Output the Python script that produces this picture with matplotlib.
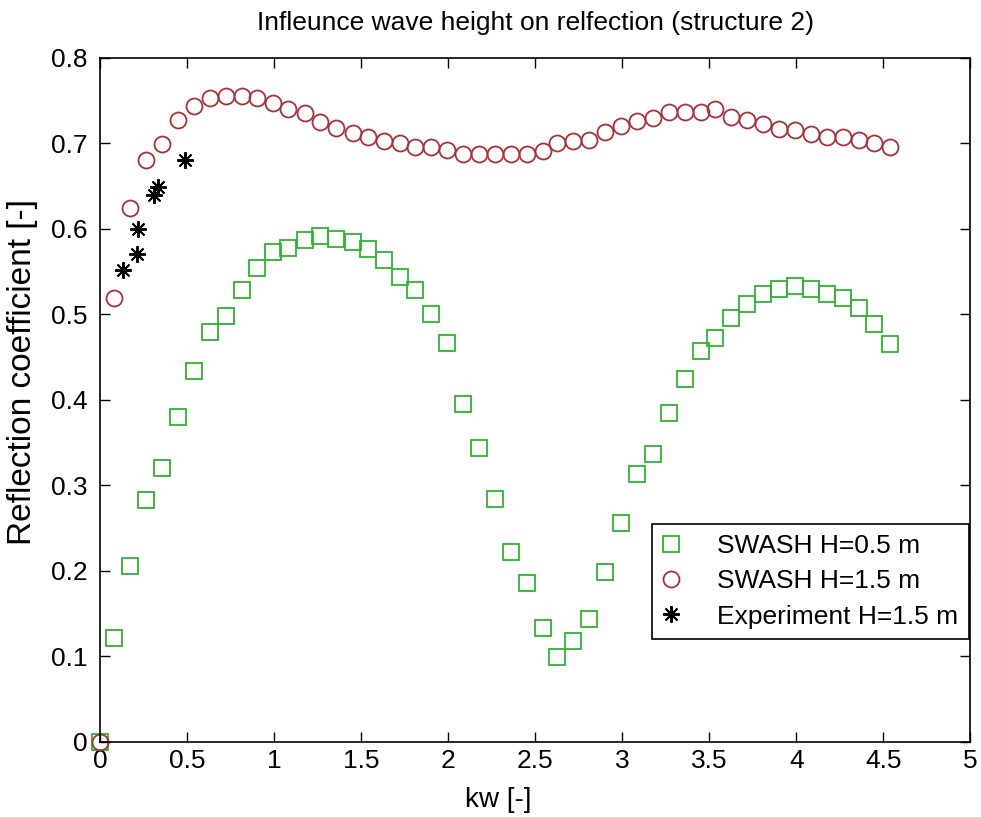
import matplotlib
matplotlib.use("Agg")
import matplotlib.pyplot as plt

# kw values (shared by both SWASH runs)
kw = [0, 0.080, 0.171, 0.263, 0.354, 0.448, 0.538, 0.630, 0.722, 0.815, 0.899,
      0.990, 1.080, 1.176, 1.265, 1.357, 1.450, 1.540, 1.630, 1.724, 1.809,
      1.899, 1.991, 2.083, 2.176, 2.268, 2.360, 2.451, 2.545, 2.623, 2.717,
      2.807, 2.898, 2.990, 3.085, 3.177, 3.267, 3.360, 3.452, 3.533, 3.622,
      3.715, 3.810, 3.900, 3.995, 4.085, 4.177, 4.269, 4.361, 4.446, 4.537]

refl_h05 = [0, 0.121, 0.205, 0.283, 0.320, 0.380, 0.434, 0.479, 0.498, 0.528, 0.554,
            0.573, 0.577, 0.587, 0.591, 0.588, 0.584, 0.576, 0.563, 0.543, 0.528,
            0.500, 0.466, 0.395, 0.343, 0.284, 0.222, 0.186, 0.133, 0.099, 0.118,
            0.144, 0.198, 0.256, 0.313, 0.337, 0.385, 0.424, 0.457, 0.472, 0.495,
            0.512, 0.524, 0.529, 0.533, 0.530, 0.524, 0.519, 0.507, 0.489, 0.465]

refl_h15 = [0, 0.519, 0.624, 0.680, 0.699, 0.727, 0.744, 0.753, 0.755, 0.755, 0.753,
            0.747, 0.740, 0.735, 0.725, 0.718, 0.712, 0.707, 0.702, 0.700, 0.695,
            0.695, 0.692, 0.687, 0.687, 0.687, 0.687, 0.687, 0.691, 0.700, 0.702,
            0.704, 0.713, 0.720, 0.726, 0.729, 0.737, 0.737, 0.737, 0.740, 0.731,
            0.727, 0.722, 0.717, 0.715, 0.711, 0.707, 0.707, 0.704, 0.700, 0.696]

# experiment H=1.5 m
kw_exp = [0.132, 0.209, 0.218, 0.309, 0.333, 0.487]
refl_exp = [0.552, 0.570, 0.600, 0.639, 0.649, 0.680]

xticks = [0, 0.5, 1, 1.5, 2, 2.5, 3, 3.5, 4, 4.5, 5]
xticklabels = ["0", "0.5", "1", "1.5", "2", "2.5", "3", "3.5", "4", "4.5", "5"]
yticks = [0, 0.1, 0.2, 0.3, 0.4, 0.5, 0.6, 0.7, 0.8]
yticklabels = ["0", "0.1", "0.2", "0.3", "0.4", "0.5", "0.6", "0.7", "0.8"]

narrow = ['Liberation Sans Narrow', 'Liberation Sans', 'DejaVu Sans']
plt.rcParams['font.family'] = narrow

fig = plt.figure(figsize=(9.81, 8.17), dpi=100)
ax = fig.add_axes([0.1022, 0.0922, 0.8869, 0.8372])

# markers at the axes edge (origin) are drawn unclipped, as in the original
ax.plot(kw, refl_h05, ls='none', marker='s', ms=12, mfc='none',
        mec='#2fb32f', mew=1.3, label="SWASH H=0.5 m", clip_on=False)
ax.plot(kw, refl_h15, ls='none', marker='o', ms=11.5, mfc='none',
        mec='#a8303a', mew=1.3, label="SWASH H=1.5 m", clip_on=False)
ax.plot(kw_exp, refl_exp, ls='none', marker=(8, 2, 0), ms=12, mfc='none',
        mec='black', mew=1.4, label="Experiment H=1.5 m")

ax.set_xlim(0, 5)
ax.set_ylim(0, 0.8)
ax.set_xticks(xticks)
ax.set_xticklabels(xticklabels)
ax.set_yticks(yticks)
ax.set_yticklabels(yticklabels)
ax.tick_params(direction='in', length=7, width=1, top=True, right=True,
               labelsize=19)
ax.tick_params(axis='x', pad=5)
ax.tick_params(axis='y', pad=9)
for s in ax.spines.values():
    s.set_linewidth(1.2)

ax.set_title("Infleunce wave height on relfection (structure 2)", fontsize=19, pad=20)
ax.set_xlabel("kw [-]", fontsize=20)
ax.xaxis.set_label_coords(0.458, -0.066)
ax.set_ylabel("Reflection coefficient [-]", fontsize=24,
              family=['Liberation Sans', 'DejaVu Sans'])
ax.yaxis.set_label_coords(-0.072, 0.54)

leg = ax.legend(loc='lower right', bbox_to_anchor=(0.998, 0.150), fontsize=19,
                fancybox=False, edgecolor='black', framealpha=1,
                handlelength=0.6, handletextpad=1.45, borderpad=0.4,
                labelspacing=0.42, borderaxespad=0)
leg.get_frame().set_linewidth(1.2)

fig.savefig("out.png", dpi=100)
